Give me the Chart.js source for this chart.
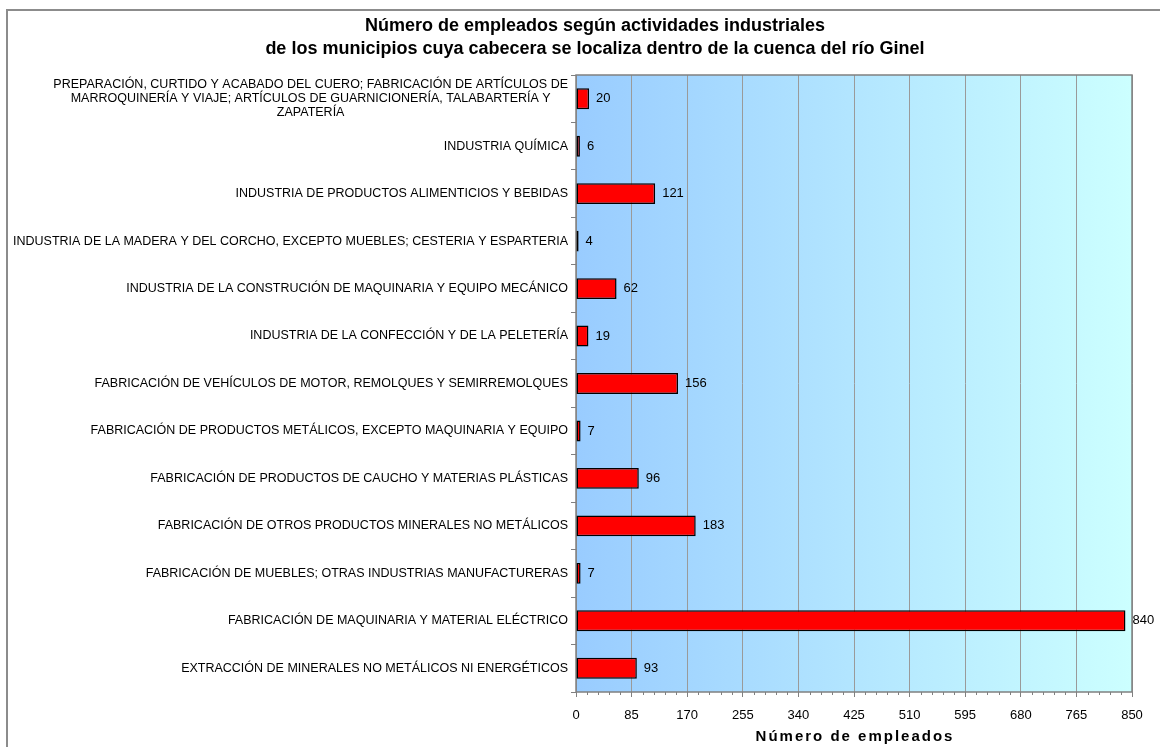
<!DOCTYPE html>
<html>
<head>
<meta charset="utf-8">
<script src="https://cdn.jsdelivr.net/npm/chart.js@4/dist/chart.umd.min.js"></script>
<style>
html,body{margin:0;padding:0;background:#fff;}
#wrap{width:1160px;height:747px;position:relative;}
</style>
</head>
<body>
<div id="wrap"><canvas id="c" width="1160" height="747"></canvas></div>
<script>
const titleLines = [
  'Número de empleados según actividades industriales',
  'de los municipios cuya cabecera se localiza dentro de la cuenca del río Ginel'
];
const categories = [
  ['PREPARACIÓN, CURTIDO Y ACABADO DEL CUERO; FABRICACIÓN DE ARTÍCULOS DE',
   'MARROQUINERÍA Y VIAJE; ARTÍCULOS DE GUARNICIONERÍA, TALABARTERÍA Y',
   'ZAPATERÍA'],
  'INDUSTRIA QUÍMICA',
  'INDUSTRIA DE PRODUCTOS ALIMENTICIOS Y BEBIDAS',
  'INDUSTRIA DE LA MADERA Y DEL CORCHO, EXCEPTO MUEBLES; CESTERIA Y ESPARTERIA',
  'INDUSTRIA DE LA CONSTRUCIÓN DE MAQUINARIA Y EQUIPO MECÁNICO',
  'INDUSTRIA DE LA CONFECCIÓN Y DE LA PELETERÍA',
  'FABRICACIÓN DE VEHÍCULOS DE MOTOR, REMOLQUES Y SEMIRREMOLQUES',
  'FABRICACIÓN DE PRODUCTOS METÁLICOS, EXCEPTO MAQUINARIA Y EQUIPO',
  'FABRICACIÓN DE PRODUCTOS DE CAUCHO Y MATERIAS PLÁSTICAS',
  'FABRICACIÓN DE OTROS PRODUCTOS MINERALES NO METÁLICOS',
  'FABRICACIÓN DE MUEBLES; OTRAS INDUSTRIAS MANUFACTURERAS',
  'FABRICACIÓN DE MAQUINARIA Y MATERIAL ELÉCTRICO',
  'EXTRACCIÓN DE MINERALES NO METÁLICOS NI ENERGÉTICOS'
];
const employees = [20, 6, 121, 4, 62, 19, 156, 7, 96, 183, 7, 840, 93];
const xTickValues = [0, 85, 170, 255, 340, 425, 510, 595, 680, 765, 850];
const xMinorStep = 17;
const axisTitle = 'Número de empleados';

const FONT = "'Liberation Sans', Arial, Helvetica, sans-serif";

const decorPlugin = {
  id: 'decor',
  beforeDraw(chart) {
    const ctx = chart.ctx, a = chart.chartArea;
    ctx.save();
    ctx.fillStyle = '#ffffff';
    ctx.fillRect(0, 0, chart.width, chart.height);
    ctx.strokeStyle = '#8c8c8c';
    ctx.lineWidth = 2;
    ctx.strokeRect(7, 10, chart.width + 20, chart.height + 20);
    const g = ctx.createLinearGradient(a.left, 0, a.right, 0);
    g.addColorStop(0, '#99CCFF');
    g.addColorStop(1, '#CCFFFF');
    ctx.fillStyle = g;
    ctx.fillRect(a.left, a.top, a.right - a.left, a.bottom - a.top);
    ctx.restore();
  },
  beforeDatasetsDraw(chart) {
    const ctx = chart.ctx, a = chart.chartArea;
    const xs = chart.scales.x;
    ctx.save();
    ctx.strokeStyle = '#808080';
    ctx.lineWidth = 1;
    ctx.beginPath();
    for (let v = xMinorStep; v < xs.max; v += xMinorStep) {
      if (v % 85 === 0) continue;
      const px = Math.round(xs.getPixelForValue(v)) + 0.5;
      ctx.moveTo(px, a.bottom);
      ctx.lineTo(px, a.bottom + 3);
    }
    ctx.stroke();
    ctx.lineWidth = 1.5;
    ctx.strokeRect(Math.round(a.left), Math.round(a.top), Math.round(a.right - a.left), Math.round(a.bottom - a.top));
    ctx.restore();
  },
  afterDatasetsDraw(chart) {
    const ctx = chart.ctx, a = chart.chartArea;
    const ys = chart.scales.y;
    ctx.save();
    // value labels
    ctx.fillStyle = '#000';
    ctx.font = '13px ' + FONT;
    ctx.textAlign = 'left';
    ctx.textBaseline = 'middle';
    const meta = chart.getDatasetMeta(0);
    meta.data.forEach((bar, i) => {
      ctx.fillText(String(employees[i]), bar.x + 7, bar.y);
    });
    // category labels
    ctx.font = '12.5px ' + FONT;
    ctx.textAlign = 'center';
    const right = a.left - 8;
    categories.forEach((cat, i) => {
      const lines = Array.isArray(cat) ? cat : [cat];
      const w = Math.max(...lines.map(l => ctx.measureText(l).width));
      const cx = right - w / 2;
      const cy = ys.getPixelForValue(i);
      const lh = 14;
      lines.forEach((l, j) => {
        ctx.fillText(l, cx, cy + (j - (lines.length - 1) / 2) * lh);
      });
    });
    // axis title
    ctx.font = 'bold 15px ' + FONT;
    try { ctx.letterSpacing = '2px'; } catch (e) {}
    ctx.textAlign = 'center';
    ctx.fillText(axisTitle, (a.left + a.right) / 2 + 1, 737);
    try { ctx.letterSpacing = '0px'; } catch (e) {}
    ctx.restore();
  }
};

new Chart(document.getElementById('c'), {
  type: 'bar',
  data: {
    labels: categories,
    datasets: [{
      data: employees,
      backgroundColor: '#FF0000',
      borderColor: '#000000',
      borderWidth: 1.5,
      borderSkipped: false,
      categoryPercentage: 1,
      barPercentage: 0.44
    }]
  },
  options: {
    indexAxis: 'y',
    responsive: false,
    animation: false,
    layout: { padding: { left: 58, right: 28, top: 0, bottom: 0 } },
    plugins: {
      legend: { display: false },
      tooltip: { enabled: false },
      title: {
        display: true,
        text: titleLines,
        color: '#000',
        font: { family: FONT, size: 18, weight: 'bold', lineHeight: 23 / 18 },
        padding: { top: 14.5, bottom: 14.5 }
      }
    },
    scales: {
      x: {
        type: 'linear',
        min: 0,
        max: 850,
        afterBuildTicks(scale) { scale.ticks = xTickValues.map(v => ({ value: v })); },
        afterFit(scale) { scale.height = 55; },
        ticks: {
          color: '#000',
          font: { family: FONT, size: 13 },
          padding: 11,
          maxRotation: 0,
          autoSkip: false
        },
        grid: { color: '#9a9a9a', lineWidth: 1, tickLength: 5, tickColor: '#808080' },
        border: { display: false }
      },
      y: {
        afterFit(scale) { scale.width = 518; },
        ticks: { display: false },
        grid: { drawOnChartArea: false, tickLength: 5, color: '#808080' },
        border: { display: false }
      }
    }
  },
  plugins: [decorPlugin]
});
</script>
</body>
</html>
